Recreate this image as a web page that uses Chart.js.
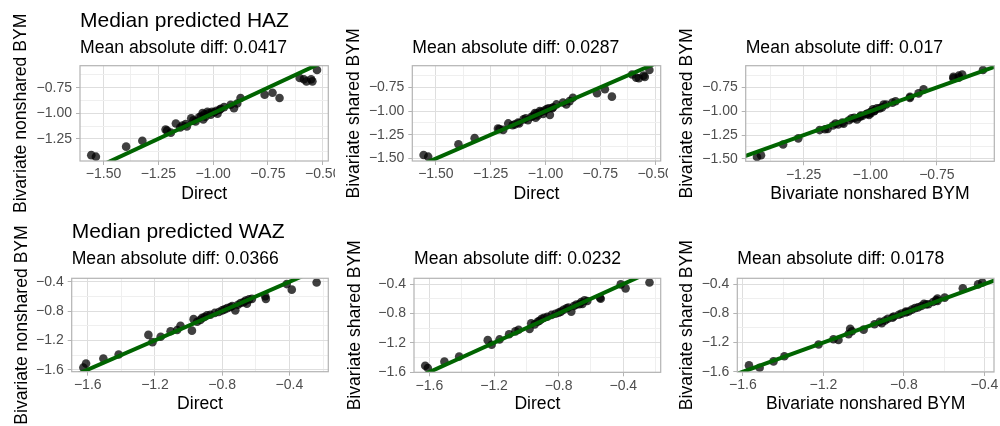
<!DOCTYPE html>
<html>
<head>
<meta charset="utf-8">
<title>Median predicted HAZ / WAZ</title>
<script src="https://cdn.jsdelivr.net/npm/chart.js@4.4.0/dist/chart.umd.min.js"></script>
<style>
  html, body { margin: 0; padding: 0; background: #fff; }
  #wrap { position: relative; width: 1000px; height: 426px; overflow: hidden; background: #fff; }
  #wrap canvas { position: absolute; }
</style>
</head>
<body>
<div id="wrap"></div>
<script>
// Median predicted HAZ per region: direct estimate and the two bivariate BYM fits
const hazDirect = [-1.556, -1.535, -1.397, -1.323, -1.217, -1.210, -1.193, -1.170, -1.150, -1.140, -1.125,
  -1.120, -1.100, -1.090, -1.080, -1.064, -1.055, -1.048, -1.045, -1.040, -1.035, -1.026, -1.020, -1.011,
  -1.005, -0.995, -0.985, -0.980, -0.970, -0.965, -0.950, -0.920, -0.905, -0.890, -0.875, -0.765, -0.729,
  -0.697, -0.605, -0.586, -0.574, -0.553, -0.547, -0.526];
const hazNonshared = [-1.410, -1.425, -1.327, -1.270, -1.160, -1.170, -1.190, -1.100, -1.140, -1.120, -1.105,
  -1.130, -1.050, -1.070, -1.080, -1.040, -1.030, -0.998, -1.060, -1.010, -1.035, -0.985, -1.000, -1.015,
  -0.985, -0.990, -0.975, -1.005, -0.965, -0.956, -0.940, -0.917, -0.950, -0.905, -0.851, -0.819, -0.800,
  -0.851, -0.655, -0.668, -0.688, -0.668, -0.688, -0.577];
const hazShared = [-1.462, -1.480, -1.350, -1.285, -1.185, -1.190, -1.198, -1.130, -1.150, -1.140, -1.120,
  -1.130, -1.087, -1.075, -1.095, -1.060, -1.050, -1.020, -1.070, -1.025, -1.045, -1.000, -1.010, -1.030,
  -0.995, -0.980, -0.970, -1.040, -0.970, -0.960, -0.930, -0.910, -0.930, -0.895, -0.860, -0.813, -0.771,
  -0.848, -0.615, -0.648, -0.655, -0.627, -0.640, -0.568];

// Median predicted WAZ per region
const wazDirect = [-1.626, -1.610, -1.507, -1.416, -1.239, -1.215, -1.166, -1.107, -1.068, -1.048, -0.980,
  -0.970, -0.949, -0.930, -0.919, -0.905, -0.890, -0.870, -0.844, -0.820, -0.800, -0.786, -0.770, -0.751,
  -0.740, -0.722, -0.706, -0.690, -0.672, -0.660, -0.653, -0.640, -0.623, -0.544, -0.540, -0.416, -0.386,
  -0.238];
const wazNonshared = [-1.570, -1.517, -1.448, -1.394, -1.125, -1.224, -1.150, -1.075, -1.058, -1.000, -1.067,
  -0.910, -0.946, -0.920, -0.893, -0.880, -0.857, -0.850, -0.825, -0.812, -0.790, -0.776, -0.760, -0.745,
  -0.730, -0.790, -0.713, -0.690, -0.678, -0.655, -0.700, -0.640, -0.633, -0.597, -0.633, -0.431, -0.507,
  -0.410];
const wazShared = [-1.513, -1.545, -1.458, -1.388, -1.165, -1.228, -1.155, -1.085, -1.045, -1.024, -1.013,
  -0.935, -0.950, -0.915, -0.900, -0.875, -0.860, -0.845, -0.821, -0.805, -0.790, -0.776, -0.750, -0.730,
  -0.720, -0.776, -0.700, -0.680, -0.676, -0.645, -0.670, -0.620, -0.631, -0.586, -0.600, -0.405, -0.459,
  -0.380];

// mean absolute difference shown above each panel
const hazMad = [0.0417, 0.0287, 0.017];
const wazMad = [0.0366, 0.0232, 0.0178];

// axis breaks and their labels
const hazTicks = [-1.5, -1.25, -1.0, -0.75, -0.5];
const hazTickLabels = ['\u22121.50', '\u22121.25', '\u22121.00', '\u22120.75', '\u22120.50'];
const wazTicks = [-1.6, -1.2, -0.8, -0.4];
const wazTickLabels = ['\u22121.6', '\u22121.2', '\u22120.8', '\u22120.4'];

const rowTitles = ['Median predicted HAZ', 'Median predicted WAZ'];
const axisNames = { direct: 'Direct', nonshared: 'Bivariate nonshared BYM', shared: 'Bivariate shared BYM' };
const pairs = [['direct', 'nonshared'], ['direct', 'shared'], ['nonshared', 'shared']];

const rows = [
  { direct: hazDirect, nonshared: hazNonshared, shared: hazShared, mad: hazMad, ticks: hazTicks, labels: hazTickLabels },
  { direct: wazDirect, nonshared: wazNonshared, shared: wazShared, mad: wazMad, ticks: wazTicks, labels: wazTickLabels }
];

// page layout (px)
const FONT = "'Liberation Sans', Arial, Helvetica, sans-serif";
const cellX = [0, 335, 668], cellW = [335, 333, 332];
const cellY = [0, 210], cellH = 216;
const plotRects = [ // left, top, right, bottom
  [[80, 65.7, 328.3, 161], [412.3, 65.7, 660.7, 161], [745.7, 65.7, 994.3, 161.3]],
  [[71.7, 278.3, 328.3, 371.7], [414, 278.3, 660.7, 372.3], [737.3, 278.3, 994, 372]]
];
const yTitleMid = [[21.2, 354.6, 687], [22, 355.6, 687]];
const titleBase = [26.7, 238.3];
const subtitleBase = [53.3, 263.8];
const xTitleBase = [200.3, 410.7];
const X_AXIS_H = 46;

function expandRange(vals) {
  const lo = Math.min(...vals), hi = Math.max(...vals);
  const pad = (hi - lo) * 0.05;
  return [lo - pad, hi + pad];
}

// major breaks plus minor breaks half way between them
function tickValues(major, min, max) {
  const step = major[1] - major[0];
  const all = [major[0] - step / 2];
  major.forEach(v => { all.push(v); all.push(v + step / 2); });
  return all.filter(v => v >= min && v <= max);
}

function majorIndex(major, v) {
  return major.findIndex(m => Math.abs(m - v) < 1e-9);
}

// titles above the panel and the grey panel border
const panelDecor = {
  id: 'panelDecor',
  afterDraw(chart, args, opts) {
    const { ctx, chartArea } = chart;
    ctx.save();
    ctx.strokeStyle = '#B3B3B3';
    ctx.lineWidth = 1.2;
    ctx.strokeRect(chartArea.left, chartArea.top, chartArea.right - chartArea.left, chartArea.bottom - chartArea.top);
    ctx.fillStyle = '#000';
    ctx.textAlign = 'left';
    ctx.textBaseline = 'alphabetic';
    if (opts.title) {
      ctx.font = '21px ' + FONT;
      ctx.fillText(opts.title, chartArea.left, opts.titleY);
    }
    ctx.font = '17.6px ' + FONT;
    ctx.fillText(opts.subtitle, chartArea.left, opts.subtitleY);
    ctx.restore();
  }
};

function axisOptions(major, labels, min, max, title, isX, titlePad, size) {
  return {
    type: 'linear',
    bounds: 'data',
    min: min,
    max: max,
    afterBuildTicks: s => { s.ticks = tickValues(major, min, max).map(v => ({ value: v })); },
    afterFit: s => {
      if (isX) { s.height = size; s.paddingLeft = 0; s.paddingRight = 0; }
      else { s.width = size; s.paddingTop = 0; s.paddingBottom = 0; }
    },
    ticks: {
      autoSkip: false,
      maxRotation: 0,
      padding: isX ? 1 : 4,
      color: '#4D4D4D',
      font: { family: FONT, size: 14 },
      callback: v => { const i = majorIndex(major, v); return i >= 0 ? labels[i] : ''; }
    },
    grid: {
      color: c => majorIndex(major, c.tick.value) >= 0 ? '#DEDEDE' : '#EFEFEF',
      lineWidth: 1,
      tickLength: 4,
      tickColor: c => majorIndex(major, c.tick.value) >= 0 ? '#B3B3B3' : 'rgba(0,0,0,0)'
    },
    border: { display: false },
    title: {
      display: true,
      text: title,
      color: '#000',
      font: { family: FONT, size: 17.6 },
      padding: titlePad
    }
  };
}

const wrap = document.getElementById('wrap');

rows.forEach((row, r) => {
  pairs.forEach(([xk, yk], c) => {
    const xs = row[xk], ys = row[yk];
    const [xmin, xmax] = expandRange(xs);
    const [ymin, ymax] = expandRange(ys);
    const cx = cellX[c], cy = cellY[r], cw = cellW[c], ch = cellH;
    const [pl, pt, pr, pb] = plotRects[r][c];
    const left = pl - cx, top = pt - cy, right = pr - cx, bottom = pb - cy;

    const lh = 17.6 * 1.2;
    const xTitleMid = xTitleBase[r] - cy - 0.3465 * 17.6;
    const xPad = { top: 0, bottom: bottom + X_AXIS_H - lh / 2 - xTitleMid };
    const yPad = { top: yTitleMid[r][c] - cx - lh / 2, bottom: 0 };

    const canvas = document.createElement('canvas');
    canvas.width = cw;
    canvas.height = ch;
    canvas.style.left = cx + 'px';
    canvas.style.top = cy + 'px';
    wrap.appendChild(canvas);

    // reference line y = x across the whole panel
    const lo = Math.min(xmin, ymin), hi = Math.max(xmax, ymax);

    new Chart(canvas.getContext('2d'), {
      type: 'scatter',
      data: {
        datasets: [{
          type: 'line',
          data: [{ x: lo, y: lo }, { x: hi, y: hi }],
          borderColor: '#006400',
          borderWidth: 4,
          pointRadius: 0,
          order: 0
        }, {
          data: xs.map((v, i) => ({ x: v, y: ys[i] })),
          backgroundColor: 'rgba(0,0,0,0.75)',
          borderWidth: 0,
          pointRadius: 4.3,
          order: 1
        }]
      },
      options: {
        responsive: false,
        animation: false,
        events: [],
        layout: {
          autoPadding: false,
          padding: { left: 0, top: top, right: cw - right, bottom: ch - bottom - X_AXIS_H }
        },
        scales: {
          x: axisOptions(row.ticks, row.labels, xmin, xmax, axisNames[xk], true, xPad, X_AXIS_H),
          y: axisOptions(row.ticks, row.labels, ymin, ymax, axisNames[yk], false, yPad, left)
        },
        plugins: {
          legend: { display: false },
          tooltip: { enabled: false },
          panelDecor: {
            title: c === 0 ? rowTitles[r] : null,
            titleY: titleBase[r] - cy,
            subtitle: 'Mean absolute diff: ' + row.mad[c],
            subtitleY: subtitleBase[r] - cy
          }
        }
      },
      plugins: [panelDecor]
    });
  });
});
</script>
</body>
</html>
